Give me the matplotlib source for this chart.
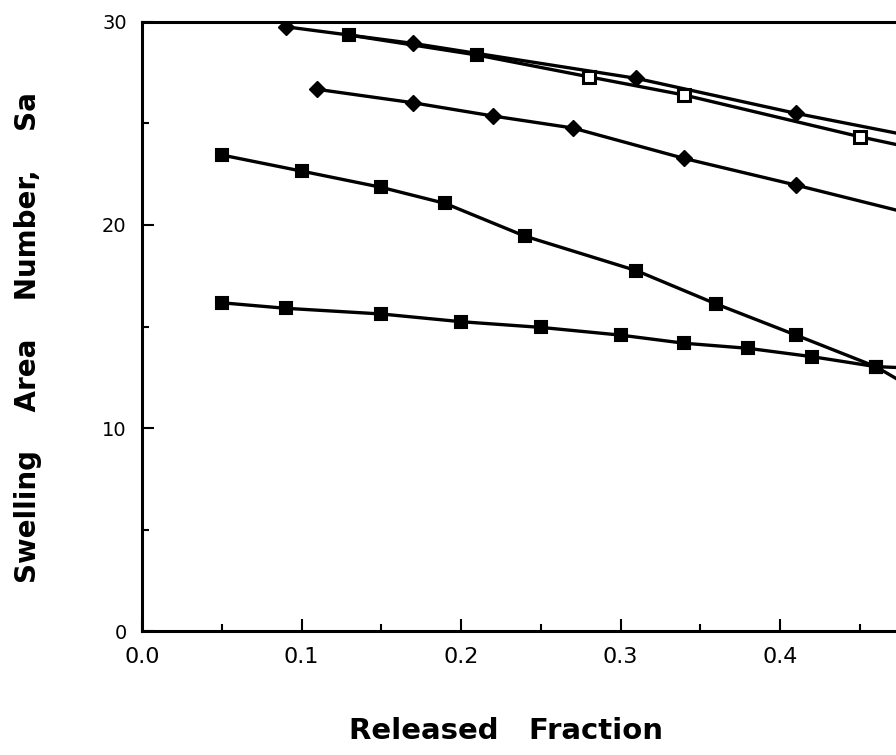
import matplotlib
matplotlib.use("Agg")
import matplotlib.pyplot as plt
from matplotlib.ticker import MultipleLocator

# top curve, filled diamonds
frac_a = [0.09, 0.17, 0.31, 0.41, 0.50]
sa_a = [29.75, 28.93, 27.21, 25.49, 24.1]

# squares running along the top curve (first two solid, rest open)
frac_b = [0.13, 0.21, 0.28, 0.34, 0.45, 0.50]
sa_b = [29.34, 28.36, 27.29, 26.39, 24.34, 23.5]
solid_b = [True, True, False, False, False, False]

# middle curve, filled diamonds
frac_c = [0.11, 0.17, 0.22, 0.27, 0.34, 0.41, 0.50]
sa_c = [26.67, 26.01, 25.36, 24.77, 23.27, 21.96, 20.2]

# steep curve, filled squares
frac_d = [0.05, 0.10, 0.15, 0.19, 0.24, 0.31, 0.36, 0.41, 0.46, 0.50]
sa_d = [23.44, 22.65, 21.85, 21.06, 19.45, 17.75, 16.11, 14.58, 13.03, 11.2]

# flat curve, filled squares
frac_e = [0.05, 0.09, 0.15, 0.20, 0.25, 0.30, 0.34, 0.38, 0.42, 0.46, 0.50]
sa_e = [16.17, 15.90, 15.62, 15.24, 14.96, 14.58, 14.18, 13.93, 13.52, 13.03, 12.9]

plt.rcParams['font.family'] = ['DejaVu Sans']

fig = plt.figure(figsize=(8.96, 7.55), dpi=100)
ax = fig.add_axes([0.1585, 0.1636, 0.8415, 0.8077])

lw = 2.4
ax.plot(frac_a, sa_a, color='black', linewidth=lw, marker='D', markersize=8.5,
        markerfacecolor='black', markeredgecolor='black')
ax.plot(frac_b, sa_b, color='black', linewidth=lw)
for x, y, s in zip(frac_b, sa_b, solid_b):
    ax.plot([x], [y], marker='s', markersize=8.5 if s else 9,
            markerfacecolor='black' if s else 'white', markeredgecolor='black',
            markeredgewidth=1.5 if s else 2.2, linestyle='none')
ax.plot(frac_c, sa_c, color='black', linewidth=lw, marker='D', markersize=8.5,
        markerfacecolor='black', markeredgecolor='black')
ax.plot(frac_d, sa_d, color='black', linewidth=lw, marker='s', markersize=8.5,
        markerfacecolor='black', markeredgecolor='black', markeredgewidth=1.5)
ax.plot(frac_e, sa_e, color='black', linewidth=lw, marker='s', markersize=8.5,
        markerfacecolor='black', markeredgecolor='black', markeredgewidth=1.5)

ax.set_xlim(0, 0.4727)
ax.set_ylim(0, 30)

ax.xaxis.set_major_locator(MultipleLocator(0.1))
ax.xaxis.set_minor_locator(MultipleLocator(0.05))
ax.yaxis.set_major_locator(MultipleLocator(10))
ax.yaxis.set_minor_locator(MultipleLocator(5))
ax.set_xticks([0.0, 0.1, 0.2, 0.3, 0.4])
ax.set_xticklabels(['0.0', '0.1', '0.2', '0.3', '0.4'])

ax.tick_params(which='both', direction='in', top=False, right=False, width=1.5)
ax.tick_params(which='major', length=8.6)
ax.tick_params(which='minor', length=5)
ax.tick_params(axis='x', labelsize=16, pad=11)
ax.tick_params(axis='y', labelsize=14, pad=11)

for side in ['left', 'bottom', 'top']:
    ax.spines[side].set_linewidth(2.2)
ax.spines['right'].set_visible(False)

fig.text(0.565, 0.032, 'Released   Fraction', fontsize=21, fontweight='bold',
         ha='center', va='center')
fig.text(0.031, 0.553, 'Swelling    Area    Number,    Sa', fontsize=20,
         fontweight='bold', rotation=90, ha='center', va='center')

fig.savefig('out.png', dpi=100)
